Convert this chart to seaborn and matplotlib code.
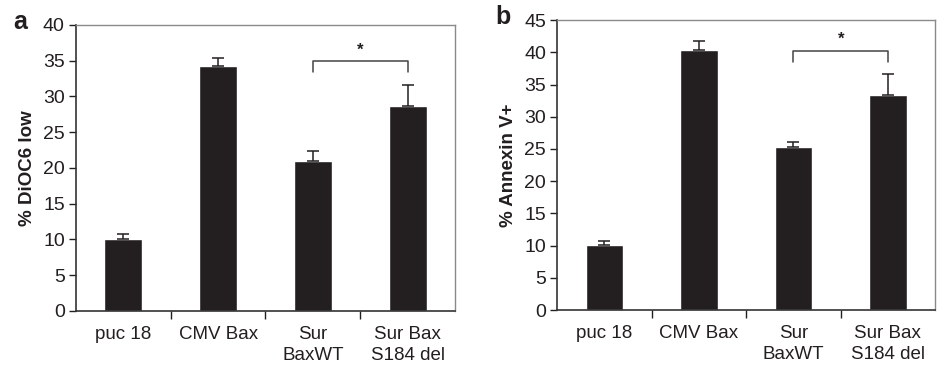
import numpy as np
import pandas as pd
import matplotlib
matplotlib.use("Agg")
import matplotlib.pyplot as plt
import seaborn as sns

# data
groups = ["puc 18", "CMV Bax", "Sur\nBaxWT", "Sur Bax\nS184 del"]
dioc6_mean = [10.0, 34.2, 20.9, 28.7]
dioc6_err = [0.8, 1.2, 1.5, 2.9]
annexin_mean = [10.1, 40.3, 25.3, 33.3]
annexin_err = [0.6, 1.5, 0.8, 3.4]

sns.set_theme(style="white")
plt.rcParams["font.family"] = ["Liberation Sans", "DejaVu Sans"]

bar_col = "#231f20"
txt_col = "#231f20"

fig = plt.figure(figsize=(9.38, 3.71), dpi=100)
ax_a = fig.add_axes([0.081, 0.162, 0.404, 0.771])
ax_b = fig.add_axes([0.594, 0.164, 0.403, 0.782])


def panel(ax, means, errs, ylabel, ymax, bracket_y, tip_y, star_y):
    df = pd.DataFrame({"group": groups, "value": means})
    sns.barplot(data=df, x="group", y="value", color=bar_col, width=0.4,
                saturation=1, errorbar=None, ax=ax)
    pos = np.arange(len(groups))
    ax.errorbar(pos, means, yerr=[np.zeros(len(errs)), errs], fmt="none",
                ecolor=bar_col, elinewidth=1.1, capsize=4.5, capthick=1.1)
    ax.set_xlim(-0.5, len(groups) - 0.5)
    ax.set_ylim(0, ymax)
    ax.set_yticks(np.arange(0, ymax + 1, 5))
    ax.set_xlabel("")
    ax.set_ylabel(ylabel, fontsize=13.5, fontweight="bold", color=txt_col, labelpad=5)
    ax.tick_params(axis="y", direction="out", length=5, width=1, colors=txt_col,
                   labelsize=14, left=True, pad=3)
    ax.tick_params(axis="x", which="major", length=0, labelsize=13.5,
                   colors=txt_col, pad=11)
    for lab in ax.get_xticklabels():
        lab.set_linespacing(1.3)
    ax.set_xticks(np.arange(0.5, len(groups) - 0.5), minor=True)
    ax.tick_params(axis="x", which="minor", direction="out", length=6, width=1,
                   color=txt_col, bottom=True)
    for s in ["left", "bottom"]:
        ax.spines[s].set_color("#333333")
        ax.spines[s].set_linewidth(1.2)
    for s in ["top", "right"]:
        ax.spines[s].set_color("#8a8a8a")
        ax.spines[s].set_linewidth(1.0)
    # significance bracket between the last two bars
    ax.plot([2, 2, 3, 3], [tip_y, bracket_y, bracket_y, tip_y],
            color="#444444", lw=1.1)
    ax.text(2.5, star_y, "*", ha="center", va="center", fontsize=12,
            color=txt_col, fontweight="bold")


panel(ax_a, dioc6_mean, dioc6_err, "% DiOC6 low", 40, 35.0, 33.4, 36.4)
panel(ax_b, annexin_mean, annexin_err, "% Annexin V+", 45, 40.2, 38.5, 42.0)

fig.text(0.021, 0.94, "a", fontsize=18, fontweight="bold", color=txt_col,
         ha="center", va="center")
fig.text(0.536, 0.955, "b", fontsize=18, fontweight="bold", color=txt_col,
         ha="center", va="center")

fig.savefig("out.png", dpi=100)
